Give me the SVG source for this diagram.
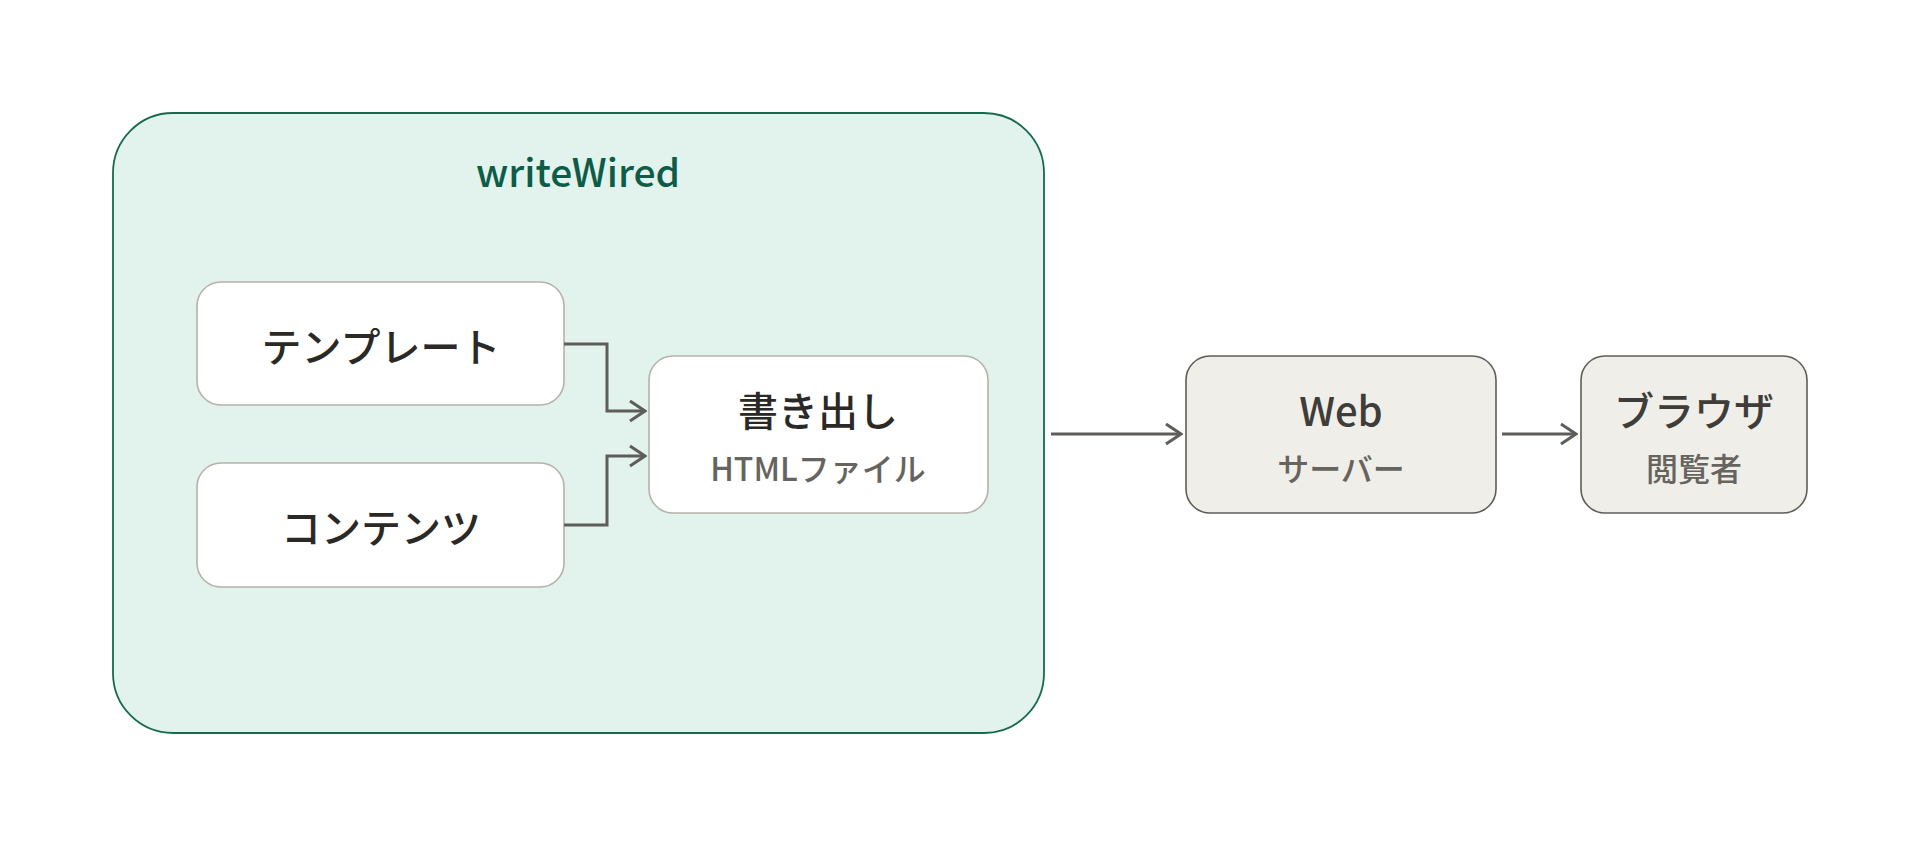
<svg xmlns="http://www.w3.org/2000/svg" width="1920" height="847" viewBox="0 0 1920 847">
<defs>
<style>
.t{font-family:"Noto Sans CJK JP","Noto Sans",sans-serif;text-anchor:middle}
.main{font-size:40px;font-weight:500;fill:#2b2926}
.sub{font-size:32px;font-weight:500;fill:#66645f}
.ext{fill:#f0eee8;stroke:#5f5d58;stroke-width:1.6}
.inn{fill:#ffffff;stroke:#b5b2aa;stroke-width:1.6}
.conn{fill:none;stroke:#5f5d5a;stroke-width:3}
</style>
<marker id="arr" viewBox="0 0 18 24" refX="16.5" refY="12" markerWidth="18" markerHeight="24" markerUnits="userSpaceOnUse" orient="auto">
<path d="M1.5 2 L16.5 12 L1.5 22" fill="none" stroke="#5f5d5a" stroke-width="3"/>
</marker>
</defs>
<rect width="1920" height="847" fill="#ffffff"/>
<g id="writeWired">
<rect x="113" y="113" width="931" height="620" rx="60" fill="#e1f3ec" stroke="#17694f" stroke-width="1.8"/>
<text class="t" x="578" y="187" style="font-size:39px;font-weight:500;fill:#0d5c48">writeWired</text>
</g>
<g id="template">
<rect class="inn" x="197" y="282" width="367" height="123" rx="24"/>
<text class="t main" x="381" y="362">テンプレート</text>
</g>
<g id="contents">
<rect class="inn" x="197" y="463" width="367" height="124" rx="24"/>
<text class="t main" x="381" y="543">コンテンツ</text>
</g>
<g id="export">
<rect class="inn" x="649" y="356" width="339" height="157" rx="24"/>
<text class="t main" x="818" y="426">書き出し</text>
<text class="t sub" x="818" y="481">HTMLファイル</text>
</g>
<g id="webserver">
<rect class="ext" x="1186" y="356" width="310" height="157" rx="24"/>
<text class="t main" x="1341" y="426" style="fill:#3f3d3a">Web</text>
<text class="t sub" x="1341" y="481">サーバー</text>
</g>
<g id="browser">
<rect class="ext" x="1581" y="356" width="226" height="157" rx="24"/>
<text class="t main" x="1694" y="426" style="fill:#3f3d3a">ブラウザ</text>
<text class="t sub" x="1694" y="481">閲覧者</text>
</g>
<g id="connectors">
<path class="conn" d="M564 344 H607 V411 H645" marker-end="url(#arr)"/>
<path class="conn" d="M564 525 H607 V456 H645" marker-end="url(#arr)"/>
<path class="conn" d="M1051 434 H1181" marker-end="url(#arr)"/>
<path class="conn" d="M1502 434 H1576" marker-end="url(#arr)"/>
</g>
</svg>
